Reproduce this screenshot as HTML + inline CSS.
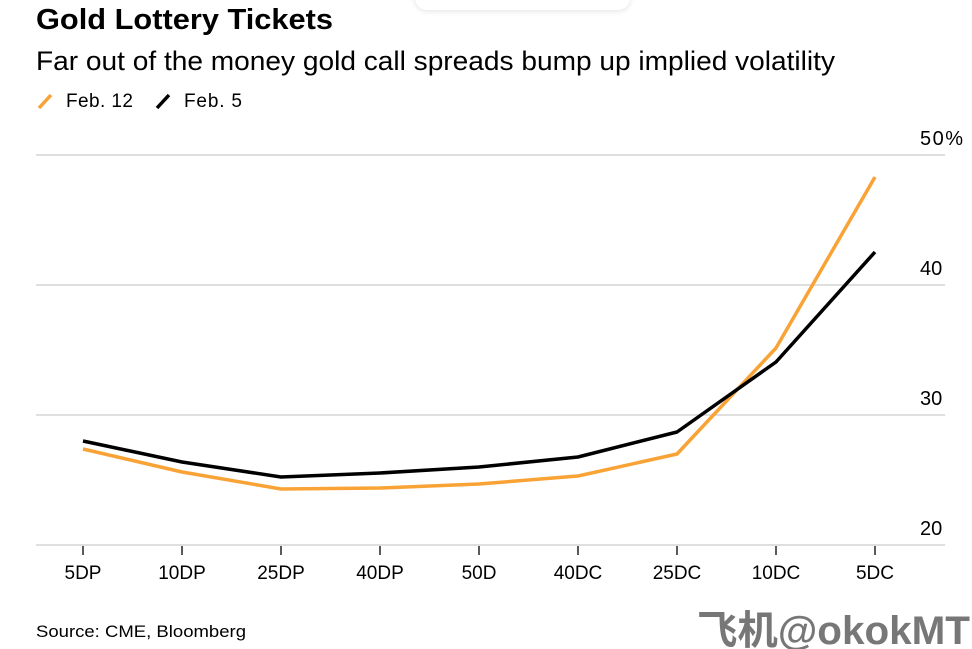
<!DOCTYPE html><html><head><meta charset="utf-8"><style>
body{margin:0;width:972px;height:649px;background:#fff;font-family:"Liberation Sans",sans-serif;overflow:hidden;position:relative}
</style></head><body>
<div style="position:absolute;left:415px;top:-20px;width:215px;height:30px;border-radius:12px;box-shadow:0 1px 6px rgba(0,0,0,.12);background:#fff"></div>
<svg width="972" height="649" style="position:absolute;left:0;top:0" font-family="Liberation Sans, sans-serif">
<text x="36" y="29" font-size="29" font-weight="bold" fill="#000" textLength="297" lengthAdjust="spacingAndGlyphs">Gold Lottery Tickets</text>
<text x="36" y="70" font-size="27" fill="#000" textLength="799" lengthAdjust="spacingAndGlyphs">Far out of the money gold call spreads bump up implied volatility</text>
<line x1="39" y1="108" x2="51" y2="95" stroke="#f9a235" stroke-width="3.5"/>
<text x="66" y="107" font-size="19" textLength="67">Feb. 12</text>
<line x1="157" y1="108" x2="169" y2="95" stroke="#000" stroke-width="3.5"/>
<text x="184" y="107" font-size="19" textLength="58">Feb. 5</text>
<g stroke="#ccc" stroke-width="1.2">
<line x1="36" y1="155" x2="945" y2="155"/><line x1="36" y1="285" x2="945" y2="285"/>
<line x1="36" y1="415" x2="945" y2="415"/><line x1="36" y1="545" x2="945" y2="545"/></g>
<g font-size="20" fill="#000"><text x="920" y="145" textLength="43">50%</text><text x="920" y="275">40</text><text x="920" y="405">30</text><text x="920" y="535">20</text></g>
<g stroke="#000" stroke-width="1.3">
<line x1="83" y1="546" x2="83" y2="555"/><line x1="182" y1="546" x2="182" y2="555"/><line x1="281" y1="546" x2="281" y2="555"/><line x1="380" y1="546" x2="380" y2="555"/><line x1="479" y1="546" x2="479" y2="555"/><line x1="578" y1="546" x2="578" y2="555"/><line x1="677" y1="546" x2="677" y2="555"/><line x1="776" y1="546" x2="776" y2="555"/><line x1="875" y1="546" x2="875" y2="555"/></g>
<g font-size="19" text-anchor="middle"><text x="83" y="579">5DP</text><text x="182" y="579">10DP</text><text x="281" y="579">25DP</text><text x="380" y="579">40DP</text><text x="479" y="579">50D</text><text x="578" y="579">40DC</text><text x="677" y="579">25DC</text><text x="776" y="579">10DC</text><text x="875" y="579">5DC</text></g>
<polyline fill="none" stroke="#f9a235" stroke-width="3.5" stroke-linejoin="round" points="83,449 182,472 281,489 380,488 479,484 578,476 677,454 776,348 875,177"/>
<polyline fill="none" stroke="#000" stroke-width="3.5" stroke-linejoin="round" points="83,441 182,462 281,477 380,473 479,467 578,457 677,432 776,362 875,252"/>
<text x="36" y="637" font-size="17" textLength="210" lengthAdjust="spacingAndGlyphs">Source: CME, Bloomberg</text>
<text x="697" y="644" font-size="40" font-weight="bold" fill="#777" textLength="273" lengthAdjust="spacingAndGlyphs" font-family="Liberation Sans, Noto Sans CJK SC, sans-serif">飞机@okokMT</text>
</svg>
</body></html>
